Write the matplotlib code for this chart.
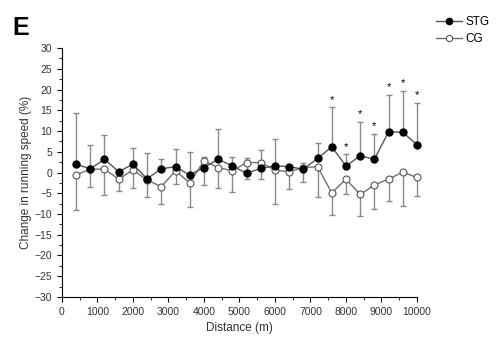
import matplotlib
matplotlib.use('Agg')
import matplotlib.pyplot as plt
from matplotlib.lines import Line2D
from matplotlib.ticker import MultipleLocator
import numpy as np

plt.rcParams['font.family'] = ['Liberation Sans', 'DejaVu Sans']

distance = np.arange(400, 10001, 400)
stg = [2.0, 0.9, 3.2, 0.2, 2.0, -1.5, 0.9, 1.4, -0.6, 1.2, 3.2, 1.6, -0.2,
       1.0, 1.6, 1.4, 0.8, 3.4, 6.2, 1.6, 4.0, 3.2, 9.8, 9.7, 6.7]
stg_top = [14.4, 6.6, 9.0, 0.4, 6.0, 4.8, 3.3, 5.6, 5.0, 3.8, 10.4, 3.8, 3.4,
           5.4, 8.0, 1.6, 2.4, 7.2, 15.7, 4.4, 12.2, 9.3, 18.8, 19.7, 16.8]
cg = [-0.6, 0.8, 0.8, -1.6, 0.6, -1.8, -3.4, 0.4, -2.5, 2.8, 1.2, 0.4, 2.4,
      2.4, 0.6, 0.2, 1.2, 1.4, -4.9, -1.6, -5.3, -3.0, -1.6, 0.1, -1.2]
cg_bottom = [-9.0, -3.4, -5.4, -4.4, -3.8, -6.0, -7.6, -2.8, -8.2, -3.0, -3.7,
             -4.6, -1.6, -1.6, -7.6, -4.0, -2.2, -5.8, -10.2, -5.2, -10.4,
             -8.8, -6.8, -8.0, -5.7]
sig = [7600, 8000, 8400, 8800, 9200, 9600, 10000]

stg = np.array(stg)
cg = np.array(cg)
up = np.array(stg_top) - stg
down = cg - np.array(cg_bottom)

fig = plt.figure(figsize=(5.03, 3.51), dpi=100)
ax = fig.add_axes([0.123, 0.154, 0.706, 0.709])

for eb in [ax.errorbar(distance, stg, yerr=[np.zeros_like(up), up], fmt='none',
                       ecolor='#8a8a8a', elinewidth=1, capsize=2.5, capthick=1, zorder=1),
           ax.errorbar(distance, cg, yerr=[down, np.zeros_like(down)], fmt='none',
                       ecolor='#8a8a8a', elinewidth=1, capsize=2.5, capthick=1, zorder=1)]:
    for art in eb.lines[1] + eb.lines[2]:
        art.set_clip_on(False)
ax.plot(distance, cg, '-o', color='#707070', mfc='white', mec='#555555',
        ms=5, mew=0.8, lw=1, zorder=2, clip_on=False)
ax.plot(distance, stg, '-o', color='#555555', mfc='black', mec='black',
        ms=5, lw=1, zorder=3, clip_on=False)

for d in sig:
    i = list(distance).index(d)
    ax.text(d, stg_top[i] + 1.8, '*', ha='center', va='center', fontsize=8)

ax.set_xlim(0, 10000)
ax.set_ylim(-30, 30)
ax.xaxis.set_major_locator(MultipleLocator(1000))
ax.xaxis.set_minor_locator(MultipleLocator(500))
ax.yaxis.set_major_locator(MultipleLocator(5))
ax.yaxis.set_minor_locator(MultipleLocator(2.5))
ax.spines['top'].set_visible(False)
ax.spines['right'].set_visible(False)
ax.tick_params(which='major', length=3.5, labelsize=7.5, labelcolor='#333333')
ax.tick_params(which='minor', length=2)
ax.set_xlabel('Distance (m)', fontsize=8.5, color='#333333', labelpad=4)
ax.set_ylabel('Change in running speed (%)', fontsize=8.5, color='#333333', labelpad=2)

handles = [Line2D([], [], color='#555555', marker='o', mfc='black', mec='black', ms=4.5, lw=1),
           Line2D([], [], color='#707070', marker='o', mfc='white', mec='#555555', ms=4.5, mew=0.8, lw=1)]
fig.legend(handles, ['STG', 'CG'], loc='upper right', bbox_to_anchor=(0.995, 0.985),
           frameon=False, fontsize=8.5, handlelength=2.2, labelspacing=0.45, handletextpad=0.3)

fig.text(0.025, 0.9, 'E', fontsize=18, fontweight='bold')

fig.savefig('out.png', dpi=100)
